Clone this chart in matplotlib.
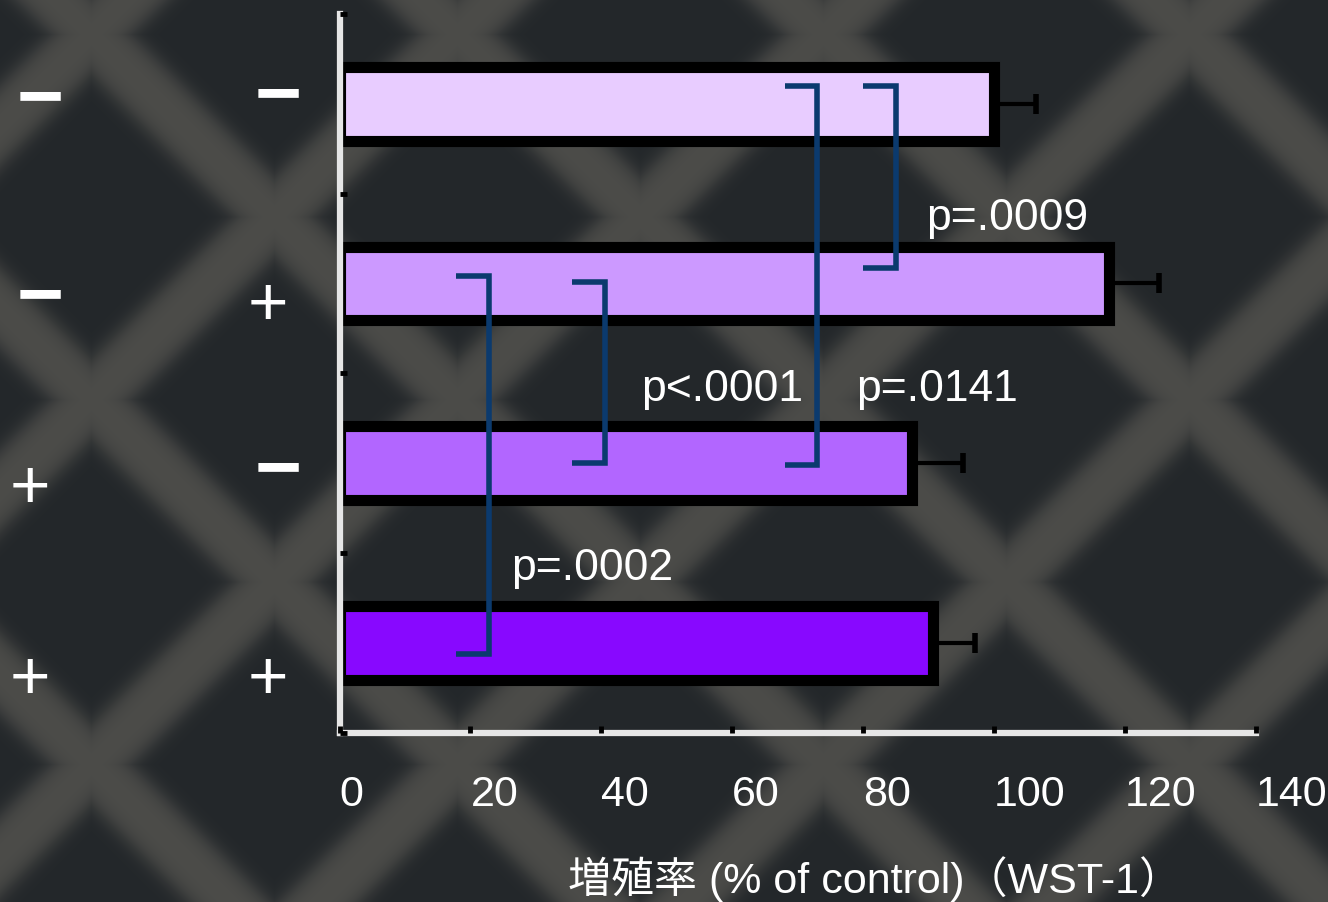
import numpy as np
import matplotlib.pyplot as plt

# 数据
sign_a = ['−', '−', '+', '+']          # 左列
sign_b = ['−', '+', '−', '+']          # 右列
rate = [100.0, 117.6, 87.5, 90.7]      # 増殖率 (% of control)
sem = [6.4, 7.6, 7.7, 6.3]
xticks = [0, 20, 40, 60, 80, 100, 120, 140]
p_labels = ['p=.0009', 'p=.0141', 'p<.0001', 'p=.0002']

# 样式 / 位置
bar_colors = ['#e8ccff', '#cc99ff', '#b266ff', '#8808ff']
bracket_x = [85.0, 73.0, 40.5, 22.8]
bracket_top = [-0.10, -0.10, 0.99, 0.96]
bracket_bot = [0.915, 2.01, 2.0, 3.065]
p_xy = [(89.6, 0.698), (78.9, 1.650), (46.1, 1.650), (26.2, 2.648)]
pos_a = [(40, 95), (40, 293), (30, 485), (30, 676)]     # 像素
pos_b = [(278, 92), (268, 302), (278, 466), (268, 676)]

plt.rcParams['font.family'] = ['Liberation Sans', 'Noto Sans CJK JP', 'DejaVu Sans']

W, H = 1328, 903
fig = plt.figure(figsize=(W / 100, H / 100), dpi=100)
fig.patch.set_facecolor('#25292c')

# 背景的网格纹理
yy, xx = np.mgrid[0:H, 0:W].astype(float)
u = (xx - 91) / 183 + (yy - 400) / 182.5
v = (xx - 91) / 183 - (yy - 400) / 182.5


def strand(t):
    d = np.abs((t + 1) % 2 - 1) * 129
    return 1 / (1 + np.exp((d - 30) / 5)) * (1 - 0.2 * np.clip(d / 30, 0, 1) ** 2)


s = np.maximum(strand(u), strand(v))
dark = np.array([35, 39, 42]) / 255
light = np.array([76, 76, 73]) / 255
img = dark + (light - dark) * s[..., None]
fig.figimage(img, 0, 0, origin='upper', zorder=0)

ax = fig.add_axes([339.5 / W, 1 - 733.5 / H, 916.5 / W, 718.5 / H])
ax.set_zorder(2)
ax.set_facecolor('none')

ax.barh(range(4), rate, height=0.41, color=bar_colors, edgecolor='black', linewidth=8,
        xerr=[[0] * 4, sem], zorder=2,
        error_kw=dict(ecolor='black', elinewidth=3, capsize=7, capthick=4, zorder=2.1))

# p值括号
for i in range(4):
    x0 = bracket_x[i]
    ax.plot([x0 - 5, x0, x0, x0 - 5], [bracket_top[i], bracket_top[i], bracket_bot[i], bracket_bot[i]],
            color='#0b3a6e', lw=4, solid_joinstyle='miter', solid_capstyle='butt', zorder=4)
    ax.text(p_xy[i][0], p_xy[i][1], p_labels[i], color='white', fontsize=32, va='baseline', ha='left', zorder=5)

ax.set_xlim(0, 140)
ax.set_ylim(3.5, -0.5)
ax.set_xticks(xticks)
ax.set_yticks([-0.5, 0.5, 1.5, 2.5, 3.5])
ax.set_yticklabels([])
ax.set_axisbelow(False)
for side in ['top', 'right']:
    ax.spines[side].set_visible(False)
for side in ['left', 'bottom']:
    ax.spines[side].set_color('#e6e6e6')
    ax.spines[side].set_linewidth(4.5)
ax.tick_params(direction='in', length=5, width=3.5, color='black')
ax.tick_params(axis='x', labelcolor='white', labelsize=31, pad=30)
for lab in ax.get_xticklabels():
    lab.set_ha('left')

fig.text(568 / W, 1 - 893 / H, '増殖率 (% of control)（WST-1）', color='white', fontsize=31,
         ha='left', va='baseline')

# 左侧 +/− 标签
for lst, pos in [(sign_a, pos_a), (sign_b, pos_b)]:
    for sg, (px, py) in zip(lst, pos):
        if sg == '−':
            fig.text(px / W, 1 - (py + 6) / H, sg, color='white', fontsize=58, fontweight='bold',
                     ha='center', va='center')
        else:
            fig.text(px / W, 1 - (py + 5) / H, sg, color='white', fontsize=50, ha='center', va='center')

plt.savefig('out.png', dpi=100)
